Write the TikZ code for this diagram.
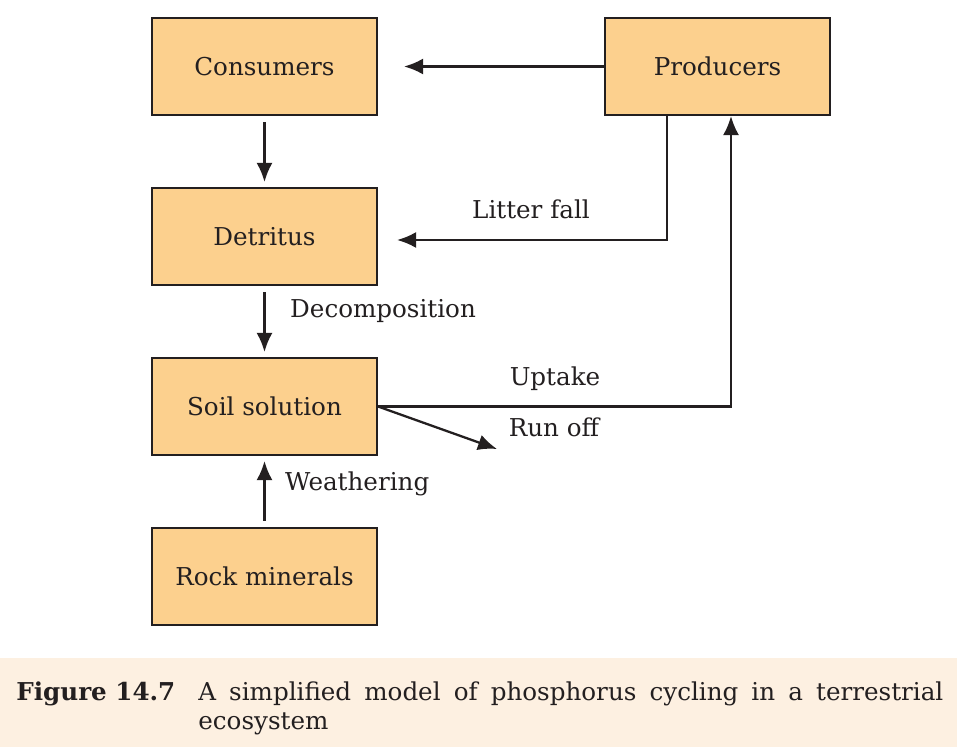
\documentclass[tikz,border=0pt]{standalone}
\usepackage{fontspec}
\setmainfont{DejaVu Serif}
\usetikzlibrary{shapes,arrows.meta,positioning}

\definecolor{boxfill}{RGB}{252,208,142}
\definecolor{capfill}{RGB}{253,240,225}
\definecolor{inkline}{RGB}{35,31,32}

\tikzset{
  pool/.style={draw=inkline, fill=boxfill, line width=1.2pt,
    minimum width=4.5cm, minimum height=1.94cm,
    font=\fontsize{14}{17}\selectfont, text=inkline},
  flow/.style={draw=inkline, line width=1.3pt, -{Latex[length=3.8mm,width=3.2mm]}},
  lbl/.style={font=\fontsize{14}{17}\selectfont, text=inkline}
}

\begin{document}
\begin{tikzpicture}
    \useasboundingbox (0,0) rectangle (19.4,14.94);

    % caption band
    \fill[capfill] (0,0) rectangle (19.14,1.78);

    % draw boxes
    \node[pool] (consumers) at (5.29,13.61) {Consumers};
    \node[pool] (producers) at (14.35,13.61) {Producers};
    \node[pool] (detritus) at (5.29,10.21) {Detritus};
    \node[pool] (soil) at (5.29,6.81) {Soil solution};
    \node[pool] (rock) at (5.29,3.41) {Rock minerals};

    % draw arrows
    \draw[flow, shorten >=0.52cm] (producers.west) -- (consumers.east);
    \draw[flow, shorten <=0.12cm, shorten >=0.1cm] (consumers) -- (detritus);
    \draw[flow, shorten >=0.38cm] ([xshift=-1.01cm]producers.south) |- ([yshift=-0.07cm]detritus.east);
    \draw[flow, shorten <=0.12cm, shorten >=0.1cm] (detritus) -- (soil);
    \draw[flow] (soil.east) -| ([xshift=0.27cm]producers.south);
    \coordinate (runoff) at (9.94,5.96);
    \draw[flow] (soil.east) -- (runoff);
    \draw[flow, shorten <=0.12cm, shorten >=0.1cm] (rock) -- (soil);

    % draw labels
    \node[lbl] (litterlbl) at (10.62,10.76) {Litter fall};
    \node[lbl, anchor=west] (decomplbl) at (5.68,8.72) {Decomposition};
    \node[lbl] (uptakelbl) at (11.1,7.36) {Uptake};
    \node[lbl] (runofflbl) at (11.08,6.4) {Run off};
    \node[lbl, anchor=west] (weatherlbl) at (5.58,5.26) {Weathering};

    % caption
    \node[lbl, anchor=base west, inner sep=0] (figno) at (0.32,0.94) {\bfseries Figure 14.7};
    \node[lbl, anchor=north west, inner sep=0, text width=14.9cm, align=justify] (caption)
      at (3.96,1.32) {A simplified model of phosphorus cycling in a terrestrial\linebreak ecosystem};
\end{tikzpicture}
\end{document}
